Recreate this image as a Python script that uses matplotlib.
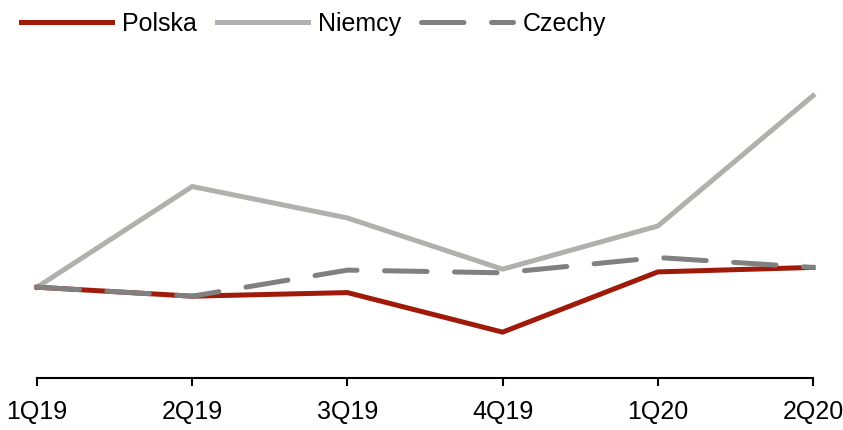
import matplotlib.pyplot as plt

# Data (index, 1Q19 = 100)
quarters = ['1Q19', '2Q19', '3Q19', '4Q19', '1Q20', '2Q20']
polska = [100.0, 99.0, 99.4, 95.0, 101.7, 102.2]
niemcy = [100.0, 111.2, 107.7, 102.0, 106.8, 121.3]
czechy = [100.0, 99.0, 101.9, 101.6, 103.3, 102.2]

plt.rcParams['font.family'] = ['Liberation Sans', 'DejaVu Sans']

fig = plt.figure(figsize=(8.43, 4.30), dpi=100)
ax = fig.add_axes([37 / 843, 52 / 430, 776 / 843, 285 / 430])

x = range(len(quarters))
ax.plot(x, polska, color='#A01A0A', lw=3.6, label='Polska', clip_on=False, zorder=3)
ax.plot(x, niemcy, color='#B0B0AC', lw=3.6, label='Niemcy', clip_on=False, zorder=2)
ax.plot(x, czechy, color='#808080', lw=3.6, label='Czechy', clip_on=False, zorder=4,
        dashes=(8.5, 5.5), dash_capstyle='round')

ax.set_xlim(0, 5)
ax.set_ylim(89.9, 121.6)
ax.set_xticks(list(x))
ax.set_xticklabels(quarters, fontsize=18)
ax.tick_params(axis='x', direction='out', length=6, width=1.5, pad=10)
ax.set_yticks([])
for s in ['left', 'right', 'top']:
    ax.spines[s].set_visible(False)
ax.spines['bottom'].set_linewidth(1.5)

fig.legend(loc='upper left', bbox_to_anchor=(-0.002, 1.025), ncol=3, frameon=False,
           fontsize=18, handlelength=3.65, handletextpad=0.4, columnspacing=0.8)

fig.savefig('out.png', dpi=100)
